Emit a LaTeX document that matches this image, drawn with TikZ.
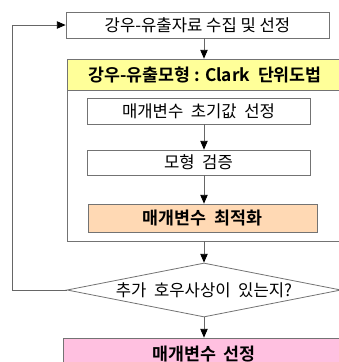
\documentclass[tikz,border=0pt]{standalone}
\usepackage{fontspec}
\setmainfont{Noto Sans CJK KR}[BoldFont={Noto Sans CJK KR Bold}]
\usetikzlibrary{shapes.geometric,arrows.meta}
\definecolor{hdryellow}{RGB}{255,255,153}
\definecolor{optorange}{RGB}{255,217,180}
\definecolor{selpink}{RGB}{255,192,224}
\tikzset{
  box/.style={draw=black!55, line width=0.6pt, inner sep=0pt, align=center, font=\fontsize{12.5}{14}\selectfont},
  boldbox/.style={box, font=\fontsize{13}{15}\selectfont\bfseries},
  arr/.style={draw=black!60, line width=0.6pt, -{Triangle[black,width=5.5pt,length=6.5pt]}},
}

\begin{document}
\begin{tikzpicture}[x=0.75pt,y=0.75pt,yscale=-1,xscale=1]
\useasboundingbox (0,0) rectangle (339,362);

% Data box
\node [box, minimum width=263*0.75pt, minimum height=26*0.75pt] (src) at (197.5,25) {강우-유출자료 수집 및 선정};
% Model frame
\node [box, minimum width=276*0.75pt, minimum height=182*0.75pt] (model) at (205,150) {};
% Model header
\node [boldbox, fill=hdryellow, minimum width=276*0.75pt, minimum height=31*0.75pt] (hdr) at (205,74.5) {강우-유출모형 : Clark\ \ 단위도법};
% Initial values
\node [box, minimum width=223*0.75pt, minimum height=26*0.75pt] (init) at (198.5,111) {매개변수\ \ 초기값\ \ 선정};
% Verification
\node [box, minimum width=223*0.75pt, minimum height=25*0.75pt] (verify) at (198.5,162.5) {모형\ \ 검증};
% Optimisation
\node [boldbox, fill=optorange, minimum width=229*0.75pt, minimum height=28*0.75pt] (optim) at (202.5,218) {매개변수\ \ 최적화};
% Decision
\node [box, shape=diamond, aspect=5, minimum width=274*0.75pt, minimum height=54*0.75pt] (dia) at (204,290) {추가\ \ 호우사상이\ \ 있는지?};
% Result
\node [boldbox, fill=selpink, minimum width=282*0.75pt, minimum height=32*0.75pt] (sel) at (204,354) {매개변수\ \ 선정};

% Connection
\draw [arr] (src.south -| dia.north) -- (model.north -| dia.north);
% Connection
\draw [arr] (init.south -| dia.north) -- (verify.north -| dia.north);
% Connection
\draw [arr] (verify.south -| dia.north) -- (optim.north -| dia.north);
% Connection
\draw [arr] (model.south -| dia.north) -- (dia.north);
% Connection
\draw [arr] (dia.south) -- (sel.north -| dia.south);
% Connection
\draw [arr] (dia.west) -- (12,290) |- (src.west);

\end{tikzpicture}
\end{document}
